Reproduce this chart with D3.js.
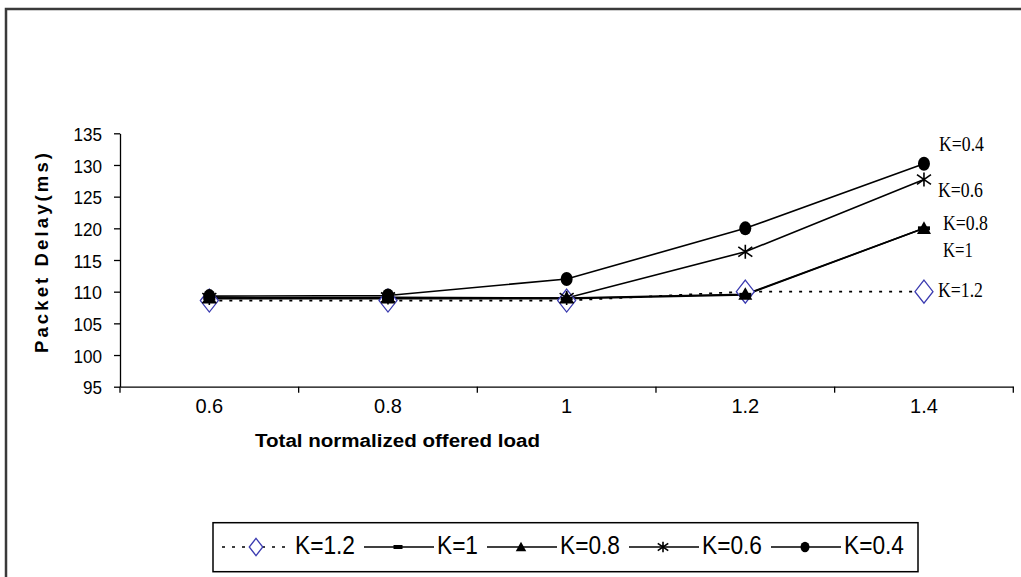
<!DOCTYPE html>
<html><head><meta charset="utf-8">
<script src="https://cdn.jsdelivr.net/npm/d3@7"></script>
<style>body{margin:0;background:#fff;overflow:hidden}</style></head>
<body>
<svg id="c" width="1021" height="577"></svg>
<script>
// ---- data ----
const categories = ["0.6", "0.8", "1", "1.2", "1.4"];
const seriesNames = ["K=1.2", "K=1", "K=0.8", "K=0.6", "K=0.4"];
const k12 = [108.6, 108.6, 108.6, 110, 110];
const k1  = [108.9, 108.9, 108.9, 109.5, 120];
const k08 = [109, 109, 109, 109.6, 120];
const k06 = [109, 109.1, 109, 116.3, 127.7];
const k04 = [109.3, 109.4, 112, 120, 130.2];
const yTicks = [95, 100, 105, 110, 115, 120, 125, 130, 135];
const yTitle = "Packet Delay(ms)";
const xTitle = "Total normalized offered load";

const seriesValues = [k12, k1, k08, k06, k04];

// ---- styles ----
const markerKind = ["diamond", "dash", "triangle", "star", "circle"];
const dashArr = ["3,7", null, null, null, null];
const endLabelOffset = [[14, 5], [19, 29], [19, 1.5], [14, 17], [15, -12.5]]; // [dx, dy] from last point
const legendTextLen = [60, 41, 60, 60, 60];

const svg = d3.select("#c");
svg.append("rect").attr("x", 0).attr("y", 0).attr("width", 1021).attr("height", 577).attr("fill", "#fff");
svg.append("rect").attr("x", 6).attr("y", 9).attr("width", 1200).attr("height", 800)
  .attr("fill", "none").attr("stroke", "#3a3a3a").attr("stroke-width", 2.5);

const x = d3.scaleBand().domain(categories).range([120, 1013.3]);
const y = d3.scaleLinear().domain([95, 135]).range([386.7, 133.3]);

// y axis
const gy = svg.append("g").attr("transform", "translate(120,0)")
  .call(d3.axisLeft(y).tickValues(yTicks).tickSize(6).tickPadding(12).tickSizeOuter(0));
gy.select(".domain").attr("stroke", "#000").attr("stroke-width", 1.3);
gy.selectAll(".tick line").attr("stroke", "#000").attr("stroke-width", 1.3);
gy.selectAll(".tick text").attr("font-family", "Arial, 'Liberation Sans', sans-serif")
  .attr("font-size", 19).attr("fill", "#000").attr("dy", "0.38em")
  .attr("textLength", d => String(d).length * 9.5).attr("lengthAdjust", "spacingAndGlyphs");

// x axis
const gx = svg.append("g").attr("transform", "translate(0,386.7)")
  .call(d3.axisBottom(x).tickSize(0).tickPadding(12).tickSizeOuter(0));
gx.select(".domain").attr("stroke", "#000").attr("stroke-width", 1.3);
gx.selectAll(".tick text").attr("font-family", "Arial, 'Liberation Sans', sans-serif")
  .attr("font-size", 20).attr("fill", "#000");
// boundary ticks
const bounds = categories.map(c => x(c)).concat([x(categories[categories.length - 1]) + x.bandwidth()]);
gx.selectAll("line.bt").data(bounds).enter().append("line").attr("class", "bt")
  .attr("x1", d => d).attr("x2", d => d).attr("y1", 0).attr("y2", 6)
  .attr("stroke", "#000").attr("stroke-width", 1.3);

// titles
svg.append("text").attr("transform", "translate(48,253) rotate(-90)")
  .attr("text-anchor", "middle").attr("font-family", "Arial, 'Liberation Sans', sans-serif")
  .attr("font-weight", "bold").attr("font-size", 18.5)
  .attr("textLength", 200).attr("lengthAdjust", "spacing").text(yTitle);
svg.append("text").attr("x", 255).attr("y", 447)
  .attr("font-family", "Arial, 'Liberation Sans', sans-serif")
  .attr("font-weight", "bold").attr("font-size", 18)
  .attr("textLength", 285).attr("lengthAdjust", "spacingAndGlyphs").text(xTitle);

// markers
function drawMarker(g, kind, cx, cy, scale) {
  const s = scale || 1;
  if (kind === "diamond") {
    const w = 9 * s, h = 11.5 * s;
    g.append("path").attr("d", `M${cx},${cy - h}L${cx + w},${cy}L${cx},${cy + h}L${cx - w},${cy}Z`)
      .attr("fill", "#fff").attr("stroke", "#3b3bb0").attr("stroke-width", 1.3);
  } else if (kind === "dash") {
    g.append("rect").attr("x", cx - 6 * s).attr("y", cy - 2).attr("width", 12 * s).attr("height", 4).attr("fill", "#000");
  } else if (kind === "triangle") {
    const w = 7 * s, h = 7 * s;
    g.append("path").attr("d", `M${cx},${cy - h}L${cx + w},${cy + h * 0.8}L${cx - w},${cy + h * 0.8}Z`).attr("fill", "#000");
  } else if (kind === "star") {
    const r = 7 * s;
    const p = `M${cx},${cy - r}L${cx},${cy + r}M${cx - r},${cy - r * 0.7}L${cx + r},${cy + r * 0.7}M${cx - r},${cy + r * 0.7}L${cx + r},${cy - r * 0.7}`;
    g.append("path").attr("d", p).attr("stroke", "#000").attr("stroke-width", 1.6).attr("fill", "none");
  } else if (kind === "circle") {
    g.append("ellipse").attr("cx", cx).attr("cy", cy).attr("rx", 6 * s).attr("ry", 7 * s).attr("fill", "#000");
  }
}

const line = d3.line().x((d, i) => x(categories[i]) + x.bandwidth() / 2).y(d => y(d));
const plot = svg.append("g");
seriesValues.forEach((vals, si) => {
  const p = plot.append("path").datum(vals).attr("d", line)
    .attr("fill", "none").attr("stroke", "#000").attr("stroke-width", si === 0 ? 1.8 : 1.6);
  if (dashArr[si]) p.attr("stroke-dasharray", dashArr[si]);
});
seriesValues.forEach((vals, si) => {
  vals.forEach((v, i) => drawMarker(plot, markerKind[si], x(categories[i]) + x.bandwidth() / 2, y(v), 1));
});

// end labels
seriesValues.forEach((vals, si) => {
  const last = vals.length - 1;
  const cx = x(categories[last]) + x.bandwidth() / 2;
  const cy = y(vals[last]);
  svg.append("text").attr("x", cx + endLabelOffset[si][0]).attr("y", cy + endLabelOffset[si][1])
    .attr("font-family", "'Liberation Serif', 'Times New Roman', serif").attr("font-size", 21)
    .attr("textLength", seriesNames[si] === "K=1" ? 30 : 45).attr("lengthAdjust", "spacingAndGlyphs")
    .text(seriesNames[si]);
});

// legend
const leg = svg.append("g");
leg.append("rect").attr("x", 213).attr("y", 522.7).attr("width", 705).attr("height", 49)
  .attr("fill", "#fff").attr("stroke", "#000").attr("stroke-width", 1.5);
let lx = 222;
const lineY = 547, textY = 554;
seriesNames.forEach((name, si) => {
  const l = leg.append("line").attr("x1", lx).attr("x2", lx + 70).attr("y1", lineY).attr("y2", lineY)
    .attr("stroke", "#000").attr("stroke-width", 1.4);
  if (dashArr[si]) l.attr("stroke-dasharray", dashArr[si]);
  drawMarker(leg, markerKind[si], lx + 34, lineY, 0.75);
  leg.append("text").attr("x", lx + 73).attr("y", textY)
    .attr("font-family", "Arial, 'Liberation Sans', sans-serif").attr("font-size", 26)
    .attr("textLength", legendTextLen[si]).attr("lengthAdjust", "spacingAndGlyphs").text(name);
  lx += 73 + legendTextLen[si] + 9;
});
</script>
</body></html>
